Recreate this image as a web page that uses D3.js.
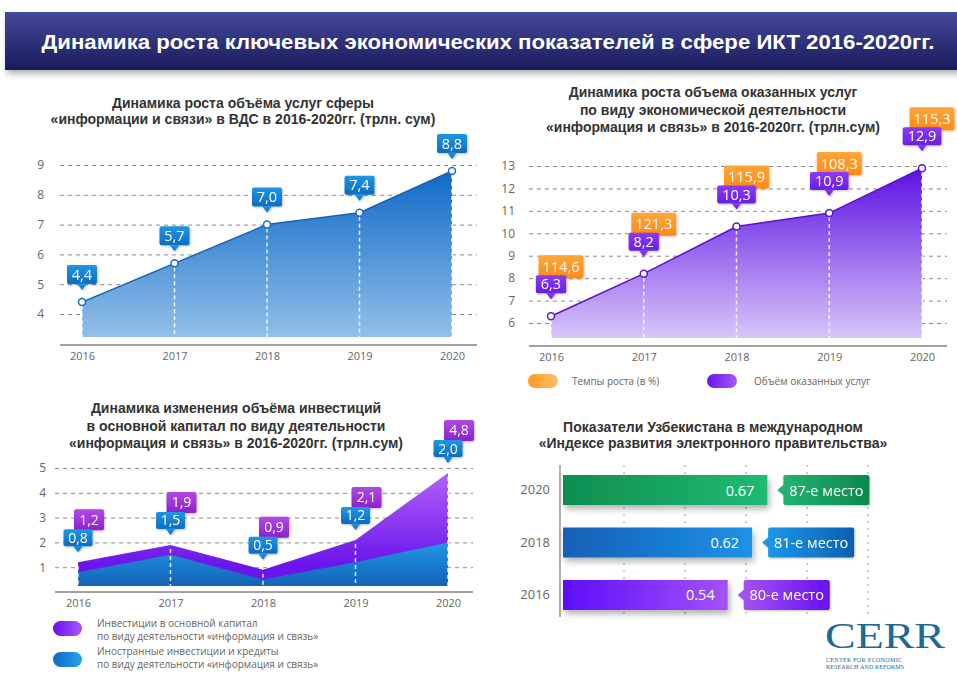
<!DOCTYPE html>
<html>
<head>
<meta charset="utf-8">
<script src="https://cdn.jsdelivr.net/npm/d3@7"></script>
<style>
  body { margin: 0; background: #fff; }
  svg { display: block; font-family: "Liberation Sans", Arial, sans-serif; }
  .tick text { font-family: "Open Sans", sans-serif; fill: #666; }
  .num { font-family: "Open Sans", sans-serif; fill: #fff; }
  .ttl { font-weight: bold; fill: #333; font-size: 14px; text-anchor: middle; }
  .leg { font-family: "Open Sans", sans-serif; fill: #666; font-size: 10px; }
</style>
</head>
<body>
<div id="vis"></div>
<script>
var years = ['2016', '2017', '2018', '2019', '2020'];
var gvaValues = [4.4, 5.7, 7.0, 7.4, 8.8];
var gvaTicks = [4, 5, 6, 7, 8, 9];
var servicesValues = [6.3, 8.2, 10.3, 10.9, 12.9];
var growthRates = [114.6, 121.3, 115.9, 108.3, 115.3];
var servicesTicks = [6, 7, 8, 9, 10, 11, 12, 13];
var investTotal = [1.2, 1.9, 0.9, 2.1, 4.8];
var investForeign = [0.8, 1.5, 0.5, 1.2, 2.0];
var investTicks = [1, 2, 3, 4, 5];
var egovYears = ['2020', '2018', '2016'];
var egovIndex = [0.67, 0.62, 0.54];
var egovRank = ['87-е место', '81-е место', '80-е место'];
var egovTicks = [0.2, 0.4, 0.6, 0.8, 1.0];

var width = 957, height = 673;

function comma(v) { return d3.format('.1f')(v).replace('.', ','); }

var svg = d3.select('#vis').append('svg')
  .attr('width', width)
  .attr('height', height);

var defs = svg.append('defs');

function grad(id, x1, y1, x2, y2, c1, c2, user) {
  var g = defs.append('linearGradient').attr('id', id)
    .attr('x1', x1).attr('y1', y1).attr('x2', x2).attr('y2', y2);
  if (user) g.attr('gradientUnits', 'userSpaceOnUse');
  g.append('stop').attr('offset', 0).attr('stop-color', c1);
  g.append('stop').attr('offset', 1).attr('stop-color', c2);
}

grad('hdr', 0, 0, 0, 1, '#44489a', '#1b1c5c');
grad('area1', 0, 165, 0, 337, '#0a66c6', '#92c0e8', true);
grad('area2', 0, 166, 0, 338, '#5a0ee0', '#d8c6fa', true);
grad('area3p', 0, 470, 0, 565, '#b463fa', '#6a16ea', true);
grad('area3b', 0, 535, 0, 586, '#22a2ee', '#1462b6', true);
grad('cBlue', 0, 0, 0, 1, '#2196e6', '#0b6cc4');
grad('cPurple', 0, 0, 0, 1, '#8a3cf6', '#6a1ee6');
grad('cOrange', 0, 0, 0, 1, '#ffa63a', '#ff8a14');
grad('cMag', 0, 0, 0, 1, '#b04ae6', '#8a22cc');
grad('bar0', 0, 0, 1, 0, '#0f8e50', '#20bb74');
grad('bar1', 0, 0, 1, 0, '#1560b6', '#1c92e8');
grad('bar2', 0, 0, 1, 0, '#5e0ef8', '#a352fa');
grad('rk0', 0, 0, 1, 0, '#22b370', '#0d884b');
grad('rk1', 0, 0, 1, 0, '#1c97ea', '#0c5fae');
grad('rk2', 0, 0, 1, 0, '#a452f4', '#6510f2');
grad('legO', 0, 0, 1, 0, '#ff9a20', '#ffc070');
grad('legP', 0, 0, 1, 0, '#6a10f0', '#a45af8');
grad('legB', 0, 0, 1, 0, '#1468bc', '#22a4f0');

var shadow = defs.append('filter').attr('id', 'shd')
  .attr('x', '-20%').attr('y', '-40%').attr('width', '150%').attr('height', '200%');
shadow.append('feDropShadow').attr('dx', 2).attr('dy', 4)
  .attr('stdDeviation', 3).attr('flood-color', '#000').attr('flood-opacity', 0.3);

var small = defs.append('filter').attr('id', 'shs')
  .attr('x', '-20%').attr('y', '-30%').attr('width', '140%').attr('height', '170%');
small.append('feDropShadow').attr('dx', 1).attr('dy', 1)
  .attr('stdDeviation', 1).attr('flood-color', '#000').attr('flood-opacity', 0.25);

// header band
svg.append('rect')
  .attr('x', 5).attr('y', 12).attr('width', 960).attr('height', 58)
  .attr('fill', 'url(#hdr)')
  .attr('filter', 'url(#shd)');

svg.append('text')
  .attr('x', 488).attr('y', 49)
  .attr('text-anchor', 'middle')
  .attr('fill', '#fff')
  .style('font-size', '20px')
  .style('font-weight', 'bold')
  .attr('textLength', 893)
  .attr('lengthAdjust', 'spacingAndGlyphs')
  .text('Динамика роста ключевых экономических показателей в сфере ИКТ 2016-2020гг.');

function titles(lines, cx, y0, step) {
  lines.forEach(function(t, i) {
    svg.append('text').attr('class', 'ttl')
      .attr('x', cx).attr('y', y0 + i * step)
      .text(t);
  });
}

// speech-bubble label with a pointer under it
function callout(g, cx, tipY, w, h, txt, fill, fs) {
  var top = tipY - 6 - h;
  var b = g.append('g').attr('filter', 'url(#shs)');
  b.append('rect')
    .attr('x', cx - w / 2).attr('y', top)
    .attr('width', w).attr('height', h)
    .attr('rx', 2)
    .attr('fill', fill);
  b.append('path')
    .attr('d', 'M' + (cx - 5) + ',' + (tipY - 6.5) + 'L' + (cx + 5) + ',' + (tipY - 6.5) + 'L' + cx + ',' + tipY + 'Z')
    .attr('fill', fill);
  b.append('text').attr('class', 'num')
    .attr('x', cx).attr('y', top + h / 2 + fs * 0.36)
    .attr('text-anchor', 'middle')
    .style('font-size', fs + 'px')
    .text(txt);
  return top;
}

function textWidth(txt, fs) {
  var t = svg.append('text').attr('class', 'num').style('font-size', fs + 'px').text(txt);
  var w = t.node().getComputedTextLength();
  t.remove();
  return w;
}

function yAxis(g, y, ticks, left, right, pad) {
  var ax = g.append('g')
    .attr('transform', 'translate(' + left + ',0)')
    .call(d3.axisLeft(y).tickValues(ticks).tickFormat(d3.format('d'))
      .tickSize(-(right - left)).tickPadding(pad));
  ax.select('.domain').remove();
  ax.selectAll('.tick line')
    .attr('stroke', '#8a8a8a')
    .attr('stroke-dasharray', '4,4');
  ax.selectAll('.tick text').style('font-size', '12px');
}

function xAxis(g, x, yPos, left, right) {
  var ax = g.append('g')
    .attr('transform', 'translate(0,' + yPos + ')')
    .call(d3.axisBottom(x).tickSize(0).tickPadding(7));
  ax.select('.domain').remove();
  ax.selectAll('.tick text').style('font-size', '11px');
  g.append('line')
    .attr('x1', left).attr('x2', right)
    .attr('y1', yPos).attr('y2', yPos)
    .attr('stroke', '#a0a0a0').attr('stroke-width', 2);
}

function dropLines(g, x, y, vals, base) {
  g.selectAll(null).data(vals).enter().append('line')
    .attr('x1', function(d, i) { return x(years[i]); })
    .attr('x2', function(d, i) { return x(years[i]); })
    .attr('y1', function(d) { return y(d) + 4; })
    .attr('y2', base)
    .attr('stroke', '#fff')
    .attr('stroke-width', 1.5)
    .attr('stroke-dasharray', '4,3')
    .attr('opacity', 0.85);
}

// ---------- chart 1: GVA ----------
titles(['Динамика роста объёма услуг сферы',
        '«информации и связи» в ВДС в 2016-2020гг. (трлн. сум)'], 243, 108, 16);

var g1 = svg.append('g');
var x1 = d3.scalePoint().domain(years).range([82, 452]);
var y1 = d3.scaleLinear().domain([4, 9]).range([314, 165]);
var base1 = 337;

yAxis(g1, y1, gvaTicks, 60, 477, 16);

var area1 = d3.area()
  .x(function(d, i) { return x1(years[i]); })
  .y0(base1)
  .y1(function(d) { return y1(d); });
var line1 = d3.line()
  .x(function(d, i) { return x1(years[i]); })
  .y(function(d) { return y1(d); });

g1.append('path').attr('d', area1(gvaValues)).attr('fill', 'url(#area1)');
g1.append('path').attr('d', line1(gvaValues)).attr('fill', 'none')
  .attr('stroke', '#1462b8').attr('stroke-width', 1.5);
dropLines(g1, x1, y1, gvaValues, base1);
g1.selectAll(null).data(gvaValues).enter().append('circle')
  .attr('cx', function(d, i) { return x1(years[i]); })
  .attr('cy', function(d) { return y1(d); })
  .attr('r', 3.5)
  .attr('fill', '#fff').attr('stroke', '#1a6cc4').attr('stroke-width', 1.5);
xAxis(g1, x1, 345, 60, 477);

gvaValues.forEach(function(v, i) {
  callout(g1, x1(years[i]), y1(v) - 12, 30, 19, comma(v), 'url(#cBlue)', 14.5);
});

// ---------- chart 2: services ----------
titles(['Динамика роста объема оказанных услуг',
        'по виду экономической деятельности',
        '«информация и связь»  в 2016-2020гг. (трлн.сум)'], 713, 97, 17.5);

var g2 = svg.append('g');
var x2 = d3.scalePoint().domain(years).range([551, 922]);
var y2 = d3.scaleLinear().domain([6, 13]).range([323, 166]);
var base2 = 338;

yAxis(g2, y2, servicesTicks, 529, 947, 14);

var area2 = d3.area()
  .x(function(d, i) { return x2(years[i]); })
  .y0(base2)
  .y1(function(d) { return y2(d); });
var line2 = d3.line()
  .x(function(d, i) { return x2(years[i]); })
  .y(function(d) { return y2(d); });

g2.append('path').attr('d', area2(servicesValues)).attr('fill', 'url(#area2)');
g2.append('path').attr('d', line2(servicesValues)).attr('fill', 'none')
  .attr('stroke', '#5a10d4').attr('stroke-width', 1.5);
dropLines(g2, x2, y2, servicesValues, base2);
g2.selectAll(null).data(servicesValues).enter().append('circle')
  .attr('cx', function(d, i) { return x2(years[i]); })
  .attr('cy', function(d) { return y2(d); })
  .attr('r', 3.5)
  .attr('fill', '#fff').attr('stroke', '#5a18d0').attr('stroke-width', 1.5);
xAxis(g2, x2, 346, 529, 947);

servicesValues.forEach(function(v, i) {
  var cx = x2(years[i]);
  var tip = y2(v) - 17;
  var pw = textWidth(comma(v), 14.5) + 10;
  var top = tip - 6 - 18;
  var ot = comma(growthRates[i]);
  var ow = textWidth(ot, 14.5) + 8;
  var og = g2.append('g').attr('filter', 'url(#shs)');
  og.append('rect')
    .attr('x', cx + 10 - ow / 2).attr('y', top - 20)
    .attr('width', ow).attr('height', 23).attr('rx', 2)
    .attr('fill', 'url(#cOrange)');
  og.append('text').attr('class', 'num')
    .attr('x', cx + 10).attr('y', top - 20 + 11.5 + 5)
    .attr('text-anchor', 'middle')
    .style('font-size', '14.5px')
    .text(ot);
  callout(g2, cx, tip, pw, 18, comma(v), 'url(#cPurple)', 14.5);
});

// legend 2
svg.append('rect').attr('x', 528).attr('y', 374).attr('width', 30).attr('height', 14)
  .attr('rx', 7).attr('fill', 'url(#legO)');
svg.append('text').attr('class', 'leg').attr('x', 572).attr('y', 385).text('Темпы роста (в %)');
svg.append('rect').attr('x', 707).attr('y', 374).attr('width', 30).attr('height', 14)
  .attr('rx', 7).attr('fill', 'url(#legP)');
svg.append('text').attr('class', 'leg').attr('x', 754).attr('y', 385).text('Объём оказанных услуг');

// ---------- chart 3: investments ----------
titles(['Динамика изменения объёма инвестиций',
        'в основной капитал по виду деятельности',
        '«информация и связь» в 2016-2020гг. (трлн.сум)'], 236, 413, 17.5);

var g3 = svg.append('g');
var x3 = d3.scalePoint().domain(years).range([78, 448]);
var y3 = d3.scaleLinear().domain([0, 5]).range([592, 468]);
var base3 = 586;

yAxis(g3, y3, investTicks, 55, 473, 9);

var area3 = d3.area()
  .x(function(d, i) { return x3(years[i]); })
  .y0(base3)
  .y1(function(d) { return y3(d); });

g3.append('path').attr('d', area3(investTotal)).attr('fill', 'url(#area3p)');
g3.append('path').attr('d', area3(investForeign)).attr('fill', 'url(#area3b)');
dropLines(g3, x3, y3, investTotal, base3);
xAxis(g3, x3, 592, 55, 473);

investTotal.forEach(function(v, i) {
  var cx = x3(years[i]);
  var tip = y3(v) - 10;
  var top = tip - 6 - 17;
  var mg = g3.append('g').attr('filter', 'url(#shs)');
  mg.append('rect')
    .attr('x', cx + 11 - 15).attr('y', top - 20)
    .attr('width', 30).attr('height', 21).attr('rx', 2)
    .attr('fill', 'url(#cMag)');
  mg.append('text').attr('class', 'num')
    .attr('x', cx + 11).attr('y', top - 20 + 10.5 + 5)
    .attr('text-anchor', 'middle')
    .style('font-size', '14px')
    .text(comma(v));
  callout(g3, cx, tip, 29, 17, comma(investForeign[i]), 'url(#cBlue)', 14);
});

// legend 3
svg.append('rect').attr('x', 53).attr('y', 621).attr('width', 29).attr('height', 15)
  .attr('rx', 7.5).attr('fill', 'url(#legP)');
svg.append('text').attr('class', 'leg').attr('x', 97).attr('y', 627).text('Инвестиции в основной капитал');
svg.append('text').attr('class', 'leg').attr('x', 97).attr('y', 640).text('по виду деятельности «информация и связь»');
svg.append('rect').attr('x', 53).attr('y', 652).attr('width', 29).attr('height', 15)
  .attr('rx', 7.5).attr('fill', 'url(#legB)');
svg.append('text').attr('class', 'leg').attr('x', 97).attr('y', 655).text('Иностранные инвестиции и кредиты');
svg.append('text').attr('class', 'leg').attr('x', 97).attr('y', 668).text('по виду деятельности «информация и связь»');

// ---------- chart 4: e-government index ----------
titles(['Показатели Узбекистана в международном',
        '«Индексе развития электронного правительства»'], 713, 432, 16);

var g4 = svg.append('g');
var x4 = d3.scaleLinear().domain([0, 1]).range([563, 868]);
var y4 = d3.scaleBand().domain(egovYears).range([452.5, 632.5]).padding(0.4286);

g4.selectAll(null).data(egovTicks).enter().append('line')
  .attr('x1', function(d) { return x4(d); })
  .attr('x2', function(d) { return x4(d); })
  .attr('y1', 465).attr('y2', 617)
  .attr('stroke', '#9a9a9a')
  .attr('stroke-dasharray', '2,5');

g4.append('line')
  .attr('x1', 560).attr('x2', 560).attr('y1', 465).attr('y2', 617)
  .attr('stroke', '#b0b0b0').attr('stroke-width', 2);

var yl = g4.append('g').attr('transform', 'translate(560,0)')
  .call(d3.axisLeft(y4).tickSize(0).tickPadding(10));
yl.select('.domain').remove();
yl.selectAll('.tick text').style('font-size', '13px');

g4.selectAll(null).data(egovIndex).enter().append('rect')
  .attr('x', x4(0))
  .attr('y', function(d, i) { return y4(egovYears[i]); })
  .attr('width', function(d) { return x4(d) - x4(0); })
  .attr('height', y4.bandwidth())
  .attr('fill', function(d, i) { return 'url(#bar' + i + ')'; })
  .attr('filter', 'url(#shd)');

g4.selectAll(null).data(egovIndex).enter().append('text')
  .attr('class', 'num')
  .attr('x', function(d) { return x4(d) - 13; })
  .attr('y', function(d, i) { return y4(egovYears[i]) + y4.bandwidth() / 2 + 5.5; })
  .attr('text-anchor', 'end')
  .style('font-size', '14.5px')
  .text(function(d) { return d.toFixed(2); });

egovIndex.forEach(function(v, i) {
  var bx = x4(v) + 16;
  var by = y4(egovYears[i]);
  var bh = y4.bandwidth();
  var rg = g4.append('g').attr('filter', 'url(#shs)');
  rg.append('path')
    .attr('d', 'M' + (bx - 6) + ',' + (by + bh / 2) + 'L' + (bx + 1) + ',' + (by + bh / 2 - 6) +
      'L' + (bx + 1) + ',' + (by + bh / 2 + 6) + 'Z')
    .attr('fill', ['#22b370', '#1c97ea', '#a452f4'][i]);
  rg.append('rect')
    .attr('x', bx).attr('y', by)
    .attr('width', 86).attr('height', bh).attr('rx', 2)
    .attr('fill', 'url(#rk' + i + ')');
  rg.append('text').attr('class', 'num')
    .attr('x', bx + 43).attr('y', by + bh / 2 + 5.5)
    .attr('text-anchor', 'middle')
    .style('font-size', '14.5px')
    .text(egovRank[i]);
});

// CERR logo
svg.append('text')
  .attr('x', 825).attr('y', 648)
  .attr('fill', '#1d6a94')
  .style('font-family', '"Liberation Serif", serif')
  .style('font-size', '36px')
  .attr('textLength', 120)
  .attr('lengthAdjust', 'spacingAndGlyphs')
  .text('CERR');
svg.append('text')
  .attr('x', 826).attr('y', 662)
  .attr('fill', '#1d6a94')
  .style('font-family', '"Liberation Serif", serif')
  .style('font-size', '6px')
  .attr('textLength', 76)
  .text('CENTER FOR ECONOMIC');
svg.append('text')
  .attr('x', 826).attr('y', 669)
  .attr('fill', '#1d6a94')
  .style('font-family', '"Liberation Serif", serif')
  .style('font-size', '6px')
  .attr('textLength', 78)
  .text('RESEARCH AND REFORMS');
</script>
</body>
</html>
